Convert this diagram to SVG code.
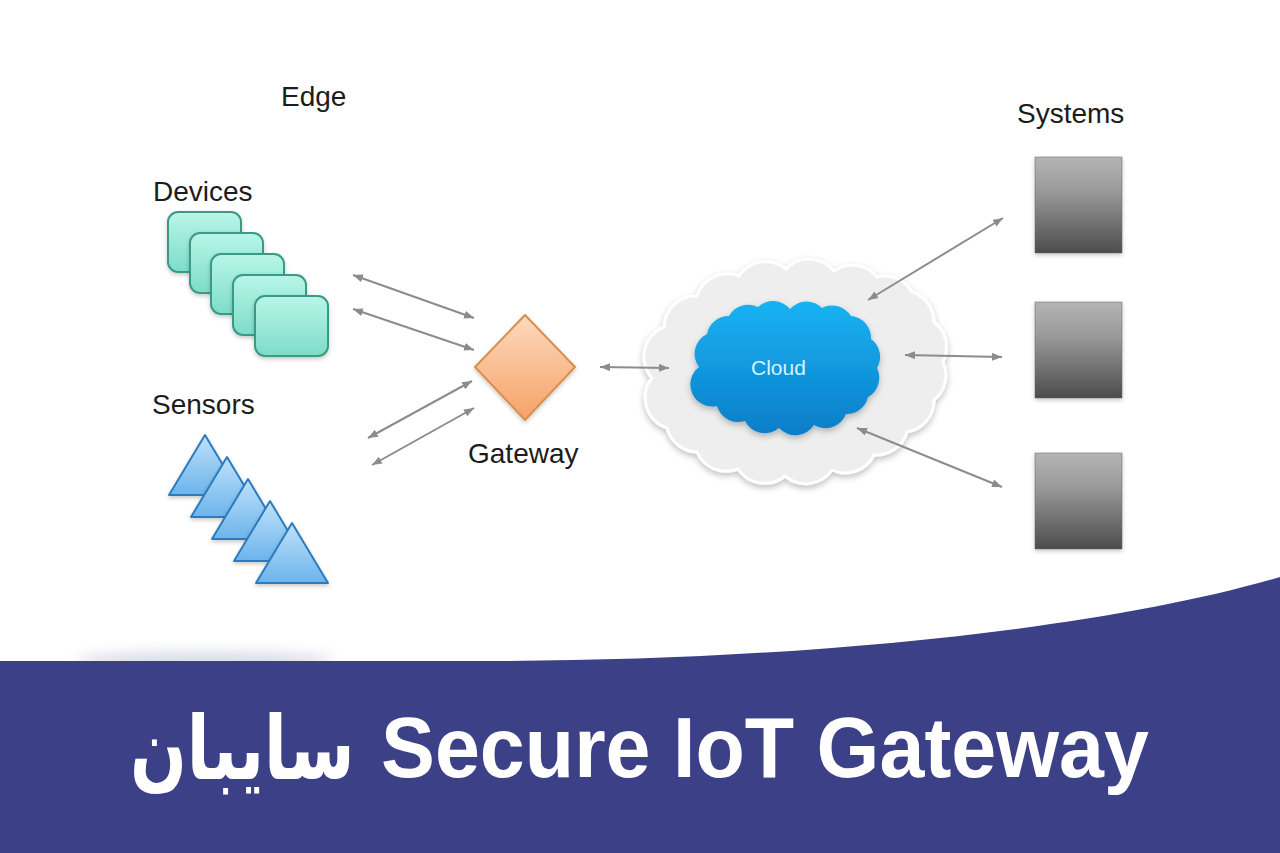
<svg xmlns="http://www.w3.org/2000/svg" width="1280" height="853" viewBox="0 0 1280 853">
  <style>
    .lbl { font-family: "Liberation Sans", Arial, sans-serif; font-size: 28px; fill: #1c1c1c; }
    .dev { fill: url(#gDev); stroke: #3a9a86; stroke-width: 2; filter: url(#sh); }
    .sen { fill: url(#gSen); stroke: #2b7bc0; stroke-width: 2; stroke-linejoin: round; filter: url(#sh); }
    .sys { fill: url(#gSys); stroke: #666; stroke-width: 0.5; filter: url(#sh); }
    .con { stroke: #8c8c8c; stroke-width: 2; fill: none; marker-start: url(#ah); marker-end: url(#ah); }
  </style>
  <defs>
    <linearGradient id="gDev" x1="0" y1="0" x2="0" y2="1">
      <stop offset="0" stop-color="#b8f6e8"/>
      <stop offset="1" stop-color="#7edcc8"/>
    </linearGradient>
    <linearGradient id="gSen" x1="0" y1="0" x2="0" y2="1">
      <stop offset="0" stop-color="#bfe2fa"/>
      <stop offset="1" stop-color="#6cb4ec"/>
    </linearGradient>
    <linearGradient id="gGw" x1="0" y1="0" x2="0" y2="1">
      <stop offset="0" stop-color="#fdd9bf"/>
      <stop offset="1" stop-color="#f6a267"/>
    </linearGradient>
    <linearGradient id="gSys" x1="0" y1="0" x2="0" y2="1">
      <stop offset="0" stop-color="#b4b4b4"/>
      <stop offset="0.35" stop-color="#9a9a9a"/>
      <stop offset="1" stop-color="#4c4c4c"/>
    </linearGradient>
    <linearGradient id="gCloud" x1="0" y1="0" x2="0" y2="1">
      <stop offset="0" stop-color="#19b3f3"/>
      <stop offset="1" stop-color="#0a7dc8"/>
    </linearGradient>
    <filter id="sh" x="-20%" y="-20%" width="140%" height="150%">
      <feDropShadow dx="0" dy="2" stdDeviation="2" flood-color="#000" flood-opacity="0.22"/>
    </filter>
    <filter id="shc" x="-20%" y="-20%" width="140%" height="150%">
      <feDropShadow dx="0" dy="3" stdDeviation="3" flood-color="#000" flood-opacity="0.25"/>
    </filter>
    <filter id="blur" x="-50%" y="-200%" width="200%" height="500%">
      <feGaussianBlur stdDeviation="7"/>
    </filter>
    <marker id="ah" viewBox="0 0 10 8" refX="10" refY="4" markerWidth="10" markerHeight="8" markerUnits="userSpaceOnUse" orient="auto-start-reverse">
      <path d="M0,0 L10,4 L0,8 Z" fill="#8c8c8c"/>
    </marker>
  </defs>

  <rect x="0" y="0" width="1280" height="853" fill="#ffffff"/>

  <g id="edge-label">
    <text class="lbl" x="281" y="106" font-size="29">Edge</text>
  </g>

  <g id="devices">
    <text class="lbl" x="153" y="201">Devices</text>
    <rect class="dev" x="168" y="212" width="73" height="60" rx="10"/>
    <rect class="dev" x="190" y="233" width="73" height="60" rx="10"/>
    <rect class="dev" x="211" y="254" width="73" height="60" rx="10"/>
    <rect class="dev" x="233" y="275" width="73" height="60" rx="10"/>
    <rect class="dev" x="255" y="296" width="73" height="60" rx="10"/>
  </g>

  <g id="sensors">
    <text class="lbl" x="152" y="414">Sensors</text>
    <polygon class="sen" points="205,435 241,495 169,495"/>
    <polygon class="sen" points="227,457 263,517 191,517"/>
    <polygon class="sen" points="248,479 284,539 212,539"/>
    <polygon class="sen" points="270,501 306,561 234,561"/>
    <polygon class="sen" points="292,523 328,583 256,583"/>
  </g>

  <g id="gateway">
    <polygon points="525,315 575,367 525,420 475,367" fill="url(#gGw)" stroke="#d98f4e" stroke-width="2" stroke-linejoin="round" filter="url(#sh)"/>
    <text class="lbl" x="468" y="463">Gateway</text>
  </g>

  <g id="cloud">
    <path filter="url(#shc)" fill="#eeeeee" stroke="#ffffff" stroke-width="3"
      d="M652,378 A32,32 0 0 1 664,327 A32,32 0 0 1 697,296 A32,32 0 0 1 739,276 A32,32 0 0 1 786,269 A32,32 0 0 1 834,271 A32,32 0 0 1 877,277 A32,32 0 0 1 912,292 A32,32 0 0 1 934,322 A32,32 0 0 1 943,362 A32,32 0 0 1 934,400 A32,32 0 0 1 907,432 A32,32 0 0 1 874,455 A32,32 0 0 1 832,470 A32,32 0 0 1 785,476 A32,32 0 0 1 738,469 A32,32 0 0 1 697,452 A32,32 0 0 1 667,428 A32,32 0 0 1 652,378 Z"/>
    <path filter="url(#shc)" fill="url(#gCloud)"
      d="M699,367 A22,22 0 0 1 707,334 A22,22 0 0 1 729,316 A22,22 0 0 1 758,307 A22,22 0 0 1 790,309 A22,22 0 0 1 822,308 A22,22 0 0 1 851,316 A22,22 0 0 1 871,339 A22,22 0 0 1 877,368 A22,22 0 0 1 868,397 A22,22 0 0 1 846,414 A22,22 0 0 1 814,425 A22,22 0 0 1 779,428 A22,22 0 0 1 745,421 A22,22 0 0 1 717,406 A22,22 0 0 1 699,367 Z"/>
    <text x="751" y="375" font-family="Liberation Sans, Arial, sans-serif" font-size="21" fill="#d6f3ff">Cloud</text>
  </g>

  <g id="systems">
    <text class="lbl" x="1017" y="123">Systems</text>
    <rect class="sys" x="1035" y="157" width="87" height="96"/>
    <rect class="sys" x="1035" y="302" width="87" height="96"/>
    <rect class="sys" x="1035" y="453" width="87" height="96"/>
  </g>

  <g id="connectors">
    <line class="con" x1="353" y1="275" x2="474" y2="318"/>
    <line class="con" x1="353" y1="309" x2="474" y2="350"/>
    <line class="con" x1="368" y1="438" x2="472" y2="381"/>
    <line class="con" x1="372" y1="465" x2="474" y2="408"/>
    <line class="con" x1="600" y1="367" x2="669" y2="368"/>
    <line class="con" x1="868" y1="300" x2="1003" y2="218"/>
    <line class="con" x1="905" y1="355" x2="1002" y2="357"/>
    <line class="con" x1="857" y1="428" x2="1002" y2="487"/>
  </g>

  <g id="banner">
    <ellipse cx="205" cy="661" rx="130" ry="8" fill="#7078a8" opacity="0.3" filter="url(#blur)"/>
    <path d="M0,661 L500,661 C800,660 1100,630 1280,577 L1280,853 L0,853 Z" fill="#3b4087"/>
    <text x="381" y="777" font-family="Liberation Sans, Arial, sans-serif" font-weight="bold" font-size="85" fill="#ffffff" textLength="768" lengthAdjust="spacingAndGlyphs">Secure IoT Gateway</text>
    <text transform="translate(130,779) scale(0.78,1)" x="0" y="0" font-family="DejaVu Sans, sans-serif" font-weight="bold" font-size="88" fill="#ffffff" textLength="288" lengthAdjust="spacingAndGlyphs">سایبان</text>
  </g>
</svg>
